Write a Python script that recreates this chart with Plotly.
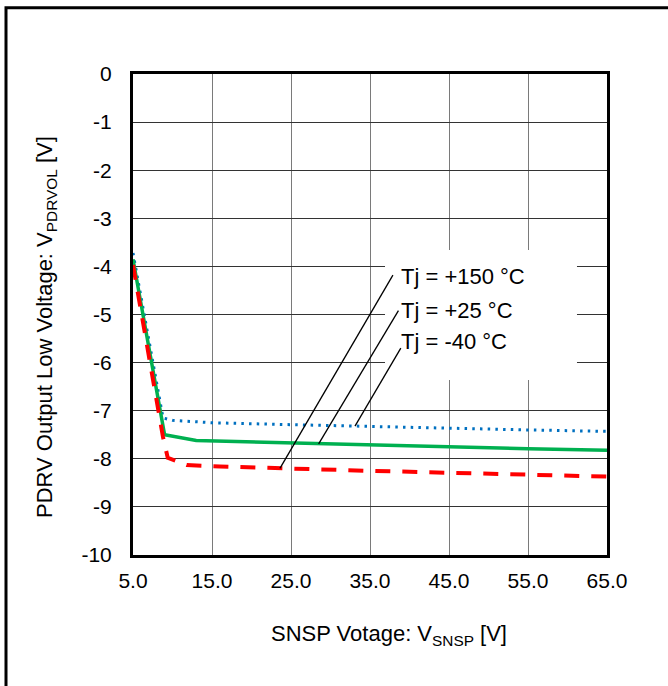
import plotly.graph_objects as go

# Data
x_m40 = [5.0, 8.8, 10.0, 15.0, 25.0, 35.0, 45.0, 55.0, 65.0]
y_m40 = [-3.72, -7.15, -7.20, -7.25, -7.29, -7.33, -7.37, -7.40, -7.43]

x_p25 = [5.0, 9.0, 13.0, 20.0, 28.5, 35.0, 45.0, 55.0, 65.0]
y_p25 = [-3.85, -7.50, -7.62, -7.65, -7.69, -7.71, -7.75, -7.79, -7.82]

x_p150 = [5.0, 8.8, 9.4, 11.8, 16.0, 23.6, 35.0, 45.0, 55.0, 65.0]
y_p150 = [-3.97, -7.55, -7.98, -8.13, -8.16, -8.20, -8.25, -8.29, -8.33, -8.37]

labels = ["Tj = +150 °C", "Tj = +25 °C", "Tj = -40 °C"]
label_tip = [(37.9, -4.18), (38.6, -4.92), (38.9, -5.70)]
label_target = [(23.6, -8.20), (28.5, -7.69), (33.1, -7.32)]

x_ticks = [5, 15, 25, 35, 45, 55, 65]
x_ticktext = ["5.0", "15.0", "25.0", "35.0", "45.0", "55.0", "65.0"]
y_ticks = list(range(-10, 1))
y_ticktext = ["-10", "-9", "-8", "-7", "-6", "-5", "-4", "-3", "-2", "-1", "0"]

x_title = "SNSP Votage: V<sub>SNSP</sub> [V]"
y_title = "PDRV Output Low Voltage: V<sub>PDRVOL</sub> [V]"

FONT = "Liberation Sans, Arial, sans-serif"

fig = go.Figure()
fig.add_trace(go.Scatter(x=x_m40, y=y_m40, mode="lines",
                         line=dict(color="#0070c0", width=3, dash="2.5px,5.2px"),
                         name="-40", showlegend=False))
fig.add_trace(go.Scatter(x=x_p25, y=y_p25, mode="lines",
                         line=dict(color="#00b050", width=3.5),
                         name="+25", showlegend=False))
fig.add_trace(go.Scatter(x=x_p150, y=y_p150, mode="lines",
                         line=dict(color="#ff0000", width=4, dash="15px,12px"),
                         name="+150", showlegend=False))

shapes = []
# white label box hiding gridlines
shapes.append(dict(type="rect", xref="x", yref="y", x0=36.9, x1=61.2, y0=-6.36, y1=-3.66,
                   fillcolor="white", line=dict(width=0), layer="between"))
for (tx, ty), (dx, dy) in zip(label_tip, label_target):
    shapes.append(dict(type="line", xref="x", yref="y", x0=tx, y0=ty, x1=dx, y1=dy,
                       line=dict(color="black", width=1.3), layer="above"))
# outer frame
shapes.append(dict(type="rect", xref="paper", yref="paper",
                   x0=(6 - 133) / 474, x1=(680 - 133) / 474,
                   y0=(555 - 700) / 481, y1=1 + (74 - 7.7) / 481,
                   line=dict(color="black", width=3), fillcolor="rgba(0,0,0,0)"))

annotations = []
label_y = [-4.22, -4.92, -5.57]
for txt, ly in zip(labels, label_y):
    annotations.append(dict(x=38.7, y=ly, xref="x", yref="y", text=txt, showarrow=False,
                            xanchor="left", yanchor="middle",
                            font=dict(family=FONT, size=22, color="black")))
# axis titles
annotations.append(dict(x=(388.5 - 133) / 474, y=(555 - 635) / 481, xref="paper", yref="paper",
                        text=x_title, showarrow=False, xanchor="center", yanchor="middle",
                        font=dict(family=FONT, size=22, color="black")))
annotations.append(dict(x=(46 - 133) / 474, y=(555 - 327) / 481, xref="paper", yref="paper",
                        text=y_title, showarrow=False, xanchor="center", yanchor="middle",
                        textangle=-90, font=dict(family=FONT, size=22, color="black")))

fig.update_layout(
    width=668, height=686,
    margin=dict(l=133, r=61, t=74, b=131),
    paper_bgcolor="white", plot_bgcolor="white",
    font=dict(family=FONT, size=21, color="black"),
    shapes=shapes, annotations=annotations,
    showlegend=False,
)
fig.update_xaxes(range=[5, 65], tickvals=x_ticks, ticktext=x_ticktext,
                 showgrid=True, gridcolor="#7a7a7a", gridwidth=1.2,
                 showline=True, linecolor="black", linewidth=3, mirror=True,
                 ticks="", ticklabelstandoff=5, zeroline=False)
fig.update_yaxes(range=[-10, 0], tickvals=y_ticks, ticktext=y_ticktext,
                 showgrid=True, gridcolor="#333333", gridwidth=1.2,
                 showline=True, linecolor="black", linewidth=3, mirror=True,
                 ticks="", ticklabelstandoff=14, zeroline=False)

fig.write_html("out.html", config={"displayModeBar": False},
               post_script="document.body.style.margin='0';")
